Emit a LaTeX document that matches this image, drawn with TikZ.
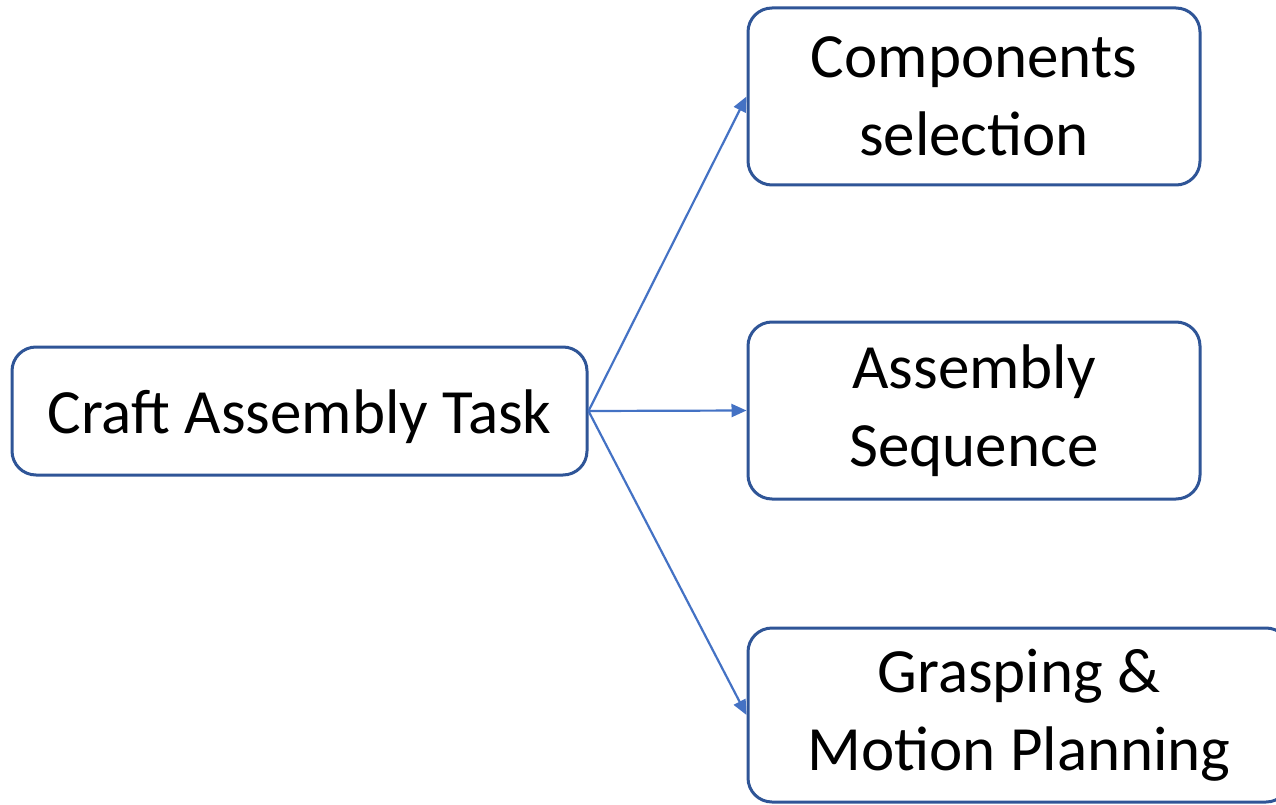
\documentclass[tikz,border=0pt]{standalone}
\usepackage{fontspec}
\setmainfont{Carlito}
\usepackage{color}
\definecolor{blue1}{RGB}{47, 85, 151}
\definecolor{blue2}{RGB}{68, 114, 196}
\usepackage{tikz}
\usetikzlibrary{arrows.meta}
\usetikzlibrary{positioning,shapes,calc}
\tikzstyle{task} = [draw=blue1,line width=3pt,rounded corners=24pt,fill=white,align=center,font=\fontsize{63}{78}\selectfont,inner sep=0pt]
\tikzstyle{arrow_task} = [-{Triangle[length=15pt,width=13pt]}, draw=blue2, fill=blue2, line width=2.2pt]

\begin{document}
\begin{tikzpicture}[x=1pt,y=1pt]
    \useasboundingbox (0,0) rectangle (1276,-805);

      \node[task,minimum width=575pt,minimum height=128pt,text height=50pt,text depth=6pt] (craft) at (299.5,-411) {Craft Assembly Task};
      \node[task,minimum width=452pt,minimum height=177pt] (comp)  at (974,-96.5)  {Components\\selection};
      \node[task,minimum width=452pt,minimum height=177pt] (seq)   at (974,-410.5) {Assembly\\Sequence};
      \node[task,minimum width=542pt,minimum height=174pt] (grasp) at (1019,-715)  {Grasping \&\\Motion Planning};

      \foreach \t in {comp,seq,grasp}
        \draw[arrow_task] (craft.east) -- (\t.west);
    \end{tikzpicture}
\end{document}
